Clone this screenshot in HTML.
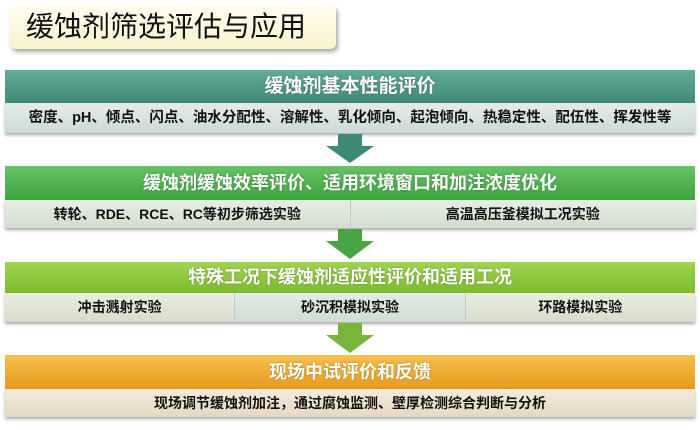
<!DOCTYPE html>
<html><head><meta charset="utf-8"><style>
body{margin:0;width:700px;height:430px;background:#fff;position:relative;overflow:hidden;font-family:"Liberation Sans","Noto Sans CJK SC",sans-serif}
.a{position:absolute}
.title{left:10px;top:5px;width:326px;height:44px;background:linear-gradient(#fffdf0,#f9f3cc);border-radius:6px;box-shadow:2px 3px 4px rgba(0,0,0,.35);font-size:28px;line-height:44px;padding-left:16px;box-sizing:border-box;color:#111}
.hd{left:5px;width:690px;color:#fff;font-weight:bold;font-size:18px;text-align:center;text-shadow:0 0 2px rgba(0,0,0,.3)}
.sb{left:5px;width:690px;font-weight:bold;font-size:14px;color:#111;box-shadow:0 2px 3px rgba(0,0,0,.35);display:flex}
.sb div{flex:1;text-align:center;border-right:1px solid #bcc}
.sb div:last-child{border-right:none}
</style></head><body>
<div class="a title">缓蚀剂筛选评估与应用</div>

<div class="a hd" style="top:70px;height:33px;line-height:33px;background:linear-gradient(#62ab97,#3f8a77);font-size:19px">缓蚀剂基本性能评价</div>
<div class="a sb" style="top:103px;height:30px;line-height:30px;background:linear-gradient(#e4ece9,#ccdad5);font-size:14.5px"><div>密度、pH、倾点、闪点、油水分配性、溶解性、乳化倾向、起泡倾向、热稳定性、配伍性、挥发性等</div></div>
<svg class="a" style="left:325px;top:134px" width="50" height="30"><polygon points="13,0 37,0 37,12 49,12 25,29 1,12 13,12" fill="#3f8a77"/></svg>

<div class="a hd" style="top:166px;height:34px;line-height:34px;background:linear-gradient(#66c266,#3ea33e)">缓蚀剂缓蚀效率评价、适用环境窗口和加注浓度优化</div>
<div class="a sb" style="top:200px;height:28px;line-height:28px;background:linear-gradient(#e6eee3,#d2ddcf)"><div>转轮、RDE、RCE、RC等初步筛选实验</div><div>高温高压釜模拟工况实验</div></div>
<svg class="a" style="left:325px;top:229px" width="50" height="31"><polygon points="13,0 37,0 37,12 49,12 25,30 1,12 13,12" fill="#4aa443"/></svg>

<div class="a hd" style="top:262px;height:31px;line-height:31px;background:linear-gradient(#a0d450,#7cbb2e)">特殊工况下缓蚀剂适应性评价和适用工况</div>
<div class="a sb" style="top:293px;height:29px;line-height:29px;background:linear-gradient(#ebeedf,#d8dccb)"><div>冲击溅射实验</div><div style="background:linear-gradient(#e4ece5,#d0dcd2)">砂沉积模拟实验</div><div>环路模拟实验</div></div>
<svg class="a" style="left:325px;top:323px" width="50" height="31"><polygon points="13,0 37,0 37,12 49,12 25,30 1,12 13,12" fill="#78b53a"/></svg>

<div class="a hd" style="top:355px;height:34px;line-height:34px;background:linear-gradient(#f7c04e,#e69a1c)">现场中试评价和反馈</div>
<div class="a sb" style="top:389px;height:28px;line-height:28px;background:linear-gradient(#f3ebdc,#e4d8c3)"><div>现场调节缓蚀剂加注，通过腐蚀监测、壁厚检测综合判断与分析</div></div>
</body></html>
